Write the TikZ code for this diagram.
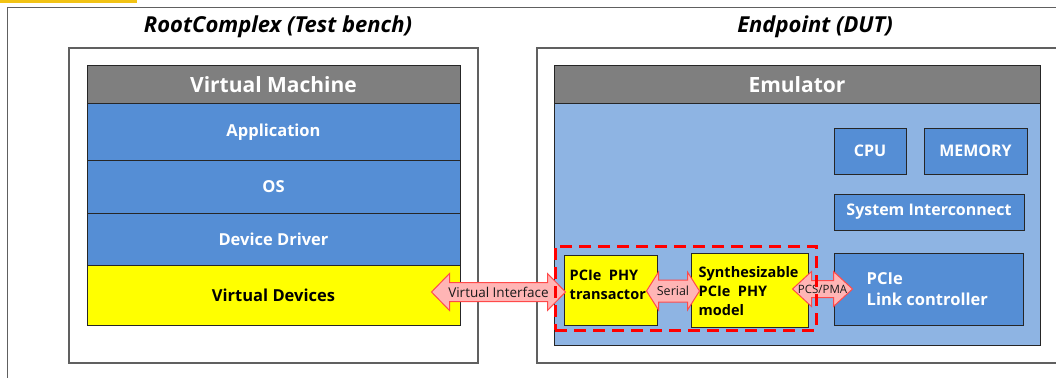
\documentclass[tikz,border=0pt]{standalone}
\usepackage{fontspec}
\setmainfont{Open Sans}
\usetikzlibrary{calc}
\definecolor{hdrgray}{HTML}{7F7F7F}
\definecolor{stackblue}{HTML}{558ED5}
\definecolor{emublue}{HTML}{8EB4E3}
\definecolor{vyellow}{HTML}{FFFF00}
\definecolor{topyellow}{HTML}{F2C314}
\definecolor{arrfill}{HTML}{FFB5B5}
\definecolor{arrdraw}{HTML}{FF4A4A}
\definecolor{framegray}{HTML}{606060}
\definecolor{edgecol}{HTML}{262626}
\definecolor{txtdark}{HTML}{1A1A1A}
\newcommand\fatdbl[5]{%
  \draw[fatarrow] (#1) -- ($(#1)+(#3,-#5)$) -- ($(#1)+(#3,-#4)$) -- ($(#2)+(-#3,-#4)$) -- ($(#2)+(-#3,-#5)$) -- (#2) -- ($(#2)+(-#3,#5)$) -- ($(#2)+(-#3,#4)$) -- ($(#1)+(#3,#4)$) -- ($(#1)+(#3,#5)$) -- cycle;}
\begin{document}
\begin{tikzpicture}[x=1pt,y=-1pt,
  frame/.style={draw=framegray, line width=1.2pt, fill=white, inner sep=0pt},
  titletext/.style={font=\bfseries\itshape\fontsize{22}{26}\selectfont, text=black},
  layer/.style={draw=edgecol, line width=1pt, minimum width=373pt, inner sep=0pt,
    font=\bfseries\fontsize{16.5}{19}\selectfont},
  hdr/.style={draw=edgecol, line width=1pt, fill=hdrgray, text=white, inner sep=0pt,
    minimum height=38pt, font=\bfseries\fontsize{21}{24}\selectfont},
  blk/.style={draw=edgecol, line width=1pt, fill=stackblue, text=white, inner sep=0pt,
    font=\bfseries\fontsize{16}{19}\selectfont},
  ybox/.style={draw=edgecol, line width=1pt, fill=vyellow, inner sep=0pt},
  ytxt/.style={anchor=west, align=left, inner sep=0pt, text=black,
    font=\bfseries\fontsize{14.5}{19}\selectfont},
  btxt/.style={anchor=west, align=left, inner sep=0pt, text=white,
    font=\bfseries\fontsize{16.5}{20.5}\selectfont},
  fatarrow/.style={draw=arrdraw, fill=arrfill, line width=1pt, line join=miter},
  arrlbl/.style={inner sep=0pt, text=txtdark},
  dutbox/.style={draw=red, line width=3pt, dash pattern=on 12pt off 7pt, inner sep=0pt}
]
\useasboundingbox (0,0) rectangle (1056,377);
\clip (0,0) rectangle (1056,377);
\fill[topyellow] (0,0) rectangle (137,3.5);
\node[frame, anchor=north west, minimum width=1100pt, minimum height=420pt] (outer) at (7,7) {};

% Root complex
\node[frame, minimum width=409pt, minimum height=315pt] (rc) at (273.5,205.5) {};
\node[titletext] (rctitle) at (278,27) {RootComplex (Test bench)};
\node[hdr, minimum width=373pt] (vm) at (273.5,85) {Virtual Machine};
\node[layer, fill=stackblue, text=white, minimum height=56pt] (app) at (273.5,132) {Application};
\node[layer, fill=stackblue, text=white, minimum height=53pt] (os) at (273.5,186.5) {OS};
\node[layer, fill=stackblue, text=white, minimum height=52pt] (dd) at (273.5,239) {Device Driver};
\node[layer, fill=vyellow, text=black, minimum height=60pt] (vd) at (273.5,295) {Virtual Devices};

% Endpoint
\node[frame, minimum width=538pt, minimum height=315pt] (ep) at (806,205.5) {};
\node[titletext] (eptitle) at (815,27) {Endpoint (DUT)};
\node[draw=edgecol, line width=1pt, fill=emublue, minimum width=486pt, minimum height=241pt, inner sep=0pt] (emu) at (797,224.5) {};
\node[hdr, minimum width=486pt] (emuh) at (797,85) {Emulator};
\node[blk, minimum width=72pt, minimum height=46pt] (cpu) at (870,151) {CPU};
\node[blk, minimum width=103pt, minimum height=46pt] (mem) at (975.5,151) {MEMORY};
\node[blk, minimum width=190pt, minimum height=36pt] (sys) at (929,212) {System Interconnect};
\node[blk, minimum width=189pt, minimum height=72pt] (link) at (928.5,289) {};
\node[btxt] (linkt) at ($(link.west)+(33,0)$) {PCIe\\Link controller};
\node[ybox, minimum width=93pt, minimum height=70pt] (phy) at (610.5,290) {};
\node[ytxt] (phyt) at ($(phy.west)+(6,-5)$) {PCIe\ \ PHY\\transactor};
\node[ybox, minimum width=117pt, minimum height=74pt] (syn) at (749.5,290) {};
\node[ytxt] (synt) at ($(syn.west)+(8,1)$) {Synthesizable\\PCIe\ \ PHY\\model};

% connectors
\coordinate (via) at ($(vd.east)+(-29,-3)$);
\coordinate (vib) at ($(phy.west)+(2,2)$);
\fatdbl{via}{vib}{18}{9.5}{18.5}
\node[arrlbl, font=\fontsize{13.5}{16}\selectfont] (vilbl) at ($(via)!0.5!(vib)$) {Virtual Interface};
\coordinate (sea) at ($(phy.east)+(-11,1)$);
\coordinate (seb) at ($(syn.west)+(9,1)$);
\fatdbl{sea}{seb}{12}{11}{19}
\node[arrlbl, font=\fontsize{12.5}{15}\selectfont] (selbl) at ($(sea)!0.5!(seb)$) {Serial};
\coordinate (pca) at ($(syn.east)+(-16,-1)$);
\coordinate (pcb) at ($(link.west)+(19,0)$);
\fatdbl{pca}{pcb}{19}{8.5}{17.5}
\node[arrlbl, font=\fontsize{11.5}{14}\selectfont] (pclbl) at ($(pca)!0.5!(pcb)$) {PCS/PMA};

\node[dutbox, minimum width=261pt, minimum height=84pt] (dut) at (685.5,288) {};
\end{tikzpicture}
\end{document}
